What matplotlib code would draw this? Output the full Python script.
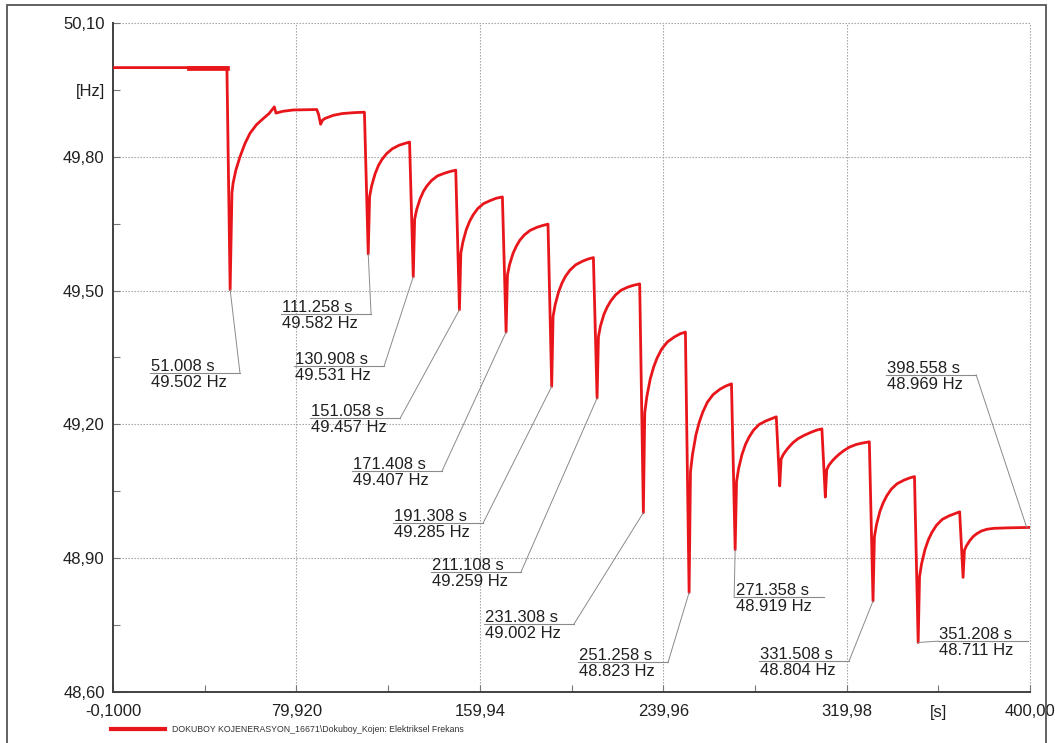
import matplotlib
matplotlib.use("Agg")
import matplotlib.pyplot as plt
from matplotlib.patches import Rectangle
from matplotlib.lines import Line2D

plt.rcParams['font.family'] = ['Liberation Sans', 'DejaVu Sans']

# ---- measured trace: electrical frequency [Hz] over time [s] ----
time_s = [
    0.0, 33.0, 49.6,
    51.008, 51.8, 52.3, 53.5, 55.3, 57.5, 59.7, 62.5, 65.5, 68.0, 69.8, 70.3, 71.0,
    74.0, 78.6, 88.8, 89.6, 90.5, 91.3, 92.4, 96.0, 100.0, 105.0, 109.6,
    111.258, 111.86, 112.76, 114.26, 115.76, 117.26, 119.26, 121.76, 124.76, 127.26, 129.3,
    130.908, 131.51, 132.41, 133.91, 135.41, 136.91, 138.91, 141.41, 144.41, 146.91, 149.45,
    151.058, 151.66, 152.56, 154.06, 155.56, 157.06, 159.06, 161.56, 164.56, 167.06, 169.8,
    171.408, 172.01, 172.91, 174.41, 175.91, 177.41, 179.41, 181.91, 184.91, 187.41, 189.7,
    191.308, 191.91, 192.81, 194.31, 195.81, 197.31, 199.31, 201.81, 204.81, 207.31, 209.5,
    211.108, 211.71, 212.61, 214.11, 215.61, 217.11, 219.11, 221.61, 224.61, 227.11, 229.7,
    231.308, 231.91, 232.81, 234.31, 235.81, 237.31, 239.31, 241.81, 244.81, 247.31, 249.65,
    251.258, 251.86, 252.76, 254.26, 255.76, 257.26, 259.26, 261.76, 264.76, 267.26, 269.75,
    271.358, 271.96, 272.86, 274.36, 275.86, 277.36, 279.36, 281.86, 284.86, 287.36, 289.3,
    290.8, 291.4, 292.3, 293.8, 295.3, 296.8, 298.8, 301.3, 304.3, 306.8, 309.2,
    310.7, 311.3, 312.2, 313.7, 315.2, 316.7, 318.7, 321.2, 324.2, 326.7, 329.9,
    331.508, 332.11, 333.01, 334.51, 336.01, 337.51, 339.51, 342.01, 345.01, 347.51, 349.6,
    351.208, 351.81, 352.71, 354.21, 355.71, 357.21, 359.21, 361.71, 364.71, 367.21, 369.3,
    370.8, 371.4, 372.3, 373.8, 375.3, 376.8, 378.8, 381.3, 384.3, 390.0, 398.558, 400.0,
]
freq_hz = [
    50.000, 50.000, 50.000,
    49.502, 49.720, 49.741, 49.770, 49.800, 49.830, 49.853, 49.872, 49.886, 49.897, 49.909, 49.912, 49.898,
    49.902, 49.905, 49.906, 49.895, 49.873, 49.882, 49.886, 49.893, 49.897, 49.899, 49.900,
    49.582, 49.711, 49.735, 49.762, 49.781, 49.794, 49.807, 49.818, 49.826, 49.830, 49.833,
    49.531, 49.660, 49.682, 49.706, 49.723, 49.735, 49.747, 49.757, 49.763, 49.767, 49.770,
    49.457, 49.584, 49.609, 49.637, 49.656, 49.670, 49.684, 49.695, 49.702, 49.707, 49.710,
    49.407, 49.535, 49.558, 49.583, 49.600, 49.613, 49.625, 49.635, 49.642, 49.646, 49.649,
    49.285, 49.442, 49.468, 49.497, 49.517, 49.532, 49.546, 49.558, 49.566, 49.571, 49.574,
    49.259, 49.397, 49.421, 49.447, 49.464, 49.477, 49.490, 49.501, 49.508, 49.512, 49.515,
    49.002, 49.226, 49.262, 49.302, 49.329, 49.349, 49.369, 49.385, 49.396, 49.403, 49.407,
    48.823, 49.094, 49.133, 49.177, 49.206, 49.228, 49.250, 49.267, 49.279, 49.286, 49.291,
    48.919, 49.072, 49.101, 49.133, 49.155, 49.171, 49.187, 49.200, 49.208, 49.213, 49.217,
    49.062, 49.122, 49.132, 49.143, 49.152, 49.160, 49.168, 49.175, 49.182, 49.187, 49.190,
    49.037, 49.098, 49.108, 49.118, 49.126, 49.133, 49.141, 49.149, 49.155, 49.158, 49.161,
    48.804, 48.948, 48.975, 49.005, 49.025, 49.040, 49.055, 49.067, 49.075, 49.080, 49.083,
    48.711, 48.859, 48.888, 48.920, 48.942, 48.958, 48.974, 48.987, 48.995, 49.000, 49.004,
    48.857, 48.918, 48.928, 48.940, 48.949, 48.955, 48.961, 48.965, 48.967, 48.968, 48.969, 48.969,
]

# ---- cursor readouts ----
marker_t = [51.008, 111.258, 130.908, 151.058, 171.408, 191.308, 211.108,
            231.308, 251.258, 271.358, 331.508, 351.208, 398.558]
marker_f = [49.502, 49.582, 49.531, 49.457, 49.407, 49.285, 49.259,
            49.002, 48.823, 48.919, 48.804, 48.711, 48.969]

# ---- axis ticks ----
x_ticks = [-0.1, 79.92, 159.94, 239.96, 319.98, 400.0]
x_tick_labels = ["-0,1000", "79,920", "159,94", "239,96", "319,98", "400,00"]
y_ticks = [48.60, 48.90, 49.20, 49.50, 49.80, 50.10]
y_tick_labels = ["48,60", "48,90", "49,20", "49,50", "49,80", "50,10"]
x_unit = "[s]"
y_unit = "[Hz]"
legend_text = "DOKUBOY KOJENERASYON_16671\\Dokuboy_Kojen: Elektriksel Frekans"

# label box placement (left end of underline, underline height, connector side)
label_x = [16.0, 73.2, 78.9, 85.9, 104.2, 122.1, 138.6, 161.8, 202.8, 270.9, 281.8, 359.9, 337.2]
label_y = [49.315, 49.448, 49.331, 49.214, 49.096, 48.979, 48.869, 48.753, 48.667,
           48.813, 48.670, 48.714, 49.311]
label_side = ['r', 'r', 'r', 'r', 'r', 'r', 'r', 'r', 'r', 'l', 'r', 'l', 'r']
box_w = 39.3

RED = '#e8161b'
GRID = '#9a9a9a'
AXIS = '#404040'
TXT = '#202020'

fig = plt.figure(figsize=(10.55, 7.43), dpi=100)
ax = fig.add_axes([113 / 1055, 1 - 692 / 743, (1030 - 113) / 1055, (692 - 23) / 743])

ax.set_xlim(x_ticks[0], x_ticks[-1])
ax.set_ylim(y_ticks[0], y_ticks[-1])

# dotted grid at the major ticks, including the top and right borders
for xv in x_ticks[1:]:
    ax.axvline(xv, color=GRID, lw=0.8, ls=(0, (1.2, 1.5)), zorder=1, clip_on=False)
for yv in y_ticks[1:]:
    ax.axhline(yv, color=GRID, lw=0.8, ls=(0, (1.2, 1.5)), zorder=1, clip_on=False)

for s in ('top', 'right'):
    ax.spines[s].set_visible(False)
for s in ('left', 'bottom'):
    ax.spines[s].set_color(AXIS)
    ax.spines[s].set_linewidth(1.4)

ax.set_xticks(x_ticks)
ax.set_xticklabels(x_tick_labels)
ax.set_yticks(y_ticks)
ax.set_yticklabels(y_tick_labels)
x_minor = [(x_ticks[i] + x_ticks[i + 1]) / 2 for i in range(len(x_ticks) - 1)]
y_minor = [(y_ticks[i] + y_ticks[i + 1]) / 2 for i in range(len(y_ticks) - 1)]
ax.set_xticks(x_minor, minor=True)
ax.set_xticklabels([""] * (len(x_minor) - 1) + [x_unit], minor=True)
ax.set_yticks(y_minor, minor=True)
ax.set_yticklabels([""] * (len(y_minor) - 1) + [y_unit], minor=True)
ax.tick_params(which='both', direction='in', length=5, width=0.8, color='#777777',
               labelsize=12, labelcolor=TXT)
ax.tick_params(axis='x', which='both', pad=9)
ax.tick_params(axis='y', which='both', pad=6)

# frequency trace
ax.plot(time_s, freq_hz, color=RED, lw=2.0, solid_joinstyle='round', zorder=3)
# governor ripple before the first step shows as a thicker band
ripple = [(t, f) for t, f in zip(time_s, freq_hz) if 33.0 <= t <= 49.6]
ax.plot([p[0] for p in ripple], [p[1] for p in ripple], color=RED, lw=3.4, zorder=3)

# cursor readout boxes
for t, f, lx, ly, side in zip(marker_t, marker_f, label_x, label_y, label_side):
    ax.plot([lx, lx + box_w], [ly, ly], color='#8a8a8a', lw=0.8, zorder=4)
    end_x = lx + box_w if side == 'r' else lx
    ax.plot([end_x, t], [ly, f], color='#8a8a8a', lw=0.7, zorder=4)
    ax.annotate(f"{t:.3f} s", xy=(lx, ly), xytext=(1, 1.5), textcoords='offset points',
                ha='left', va='baseline', fontsize=12, color=TXT, zorder=5)
    ax.annotate(f"{f:.3f} Hz", xy=(lx, ly), xytext=(1, -1.5), textcoords='offset points',
                ha='left', va='top', fontsize=12, color=TXT, zorder=5)

# legend strip below the axes
fig.add_artist(Line2D([111 / 1055, 165 / 1055], [1 - 729 / 743, 1 - 729 / 743],
                      color=RED, lw=3.0, transform=fig.transFigure))
fig.text(172 / 1055, 1 - 729 / 743, legend_text, fontsize=6.3, color='#333333',
         ha='left', va='center')

# page frame
fig.add_artist(Rectangle((7 / 1055, -0.02), (1046 - 7) / 1055, 1 - 5 / 743 + 0.02,
                         transform=fig.transFigure, fill=False, ec='#555555', lw=1.3))

fig.savefig("out.png", dpi=100)
